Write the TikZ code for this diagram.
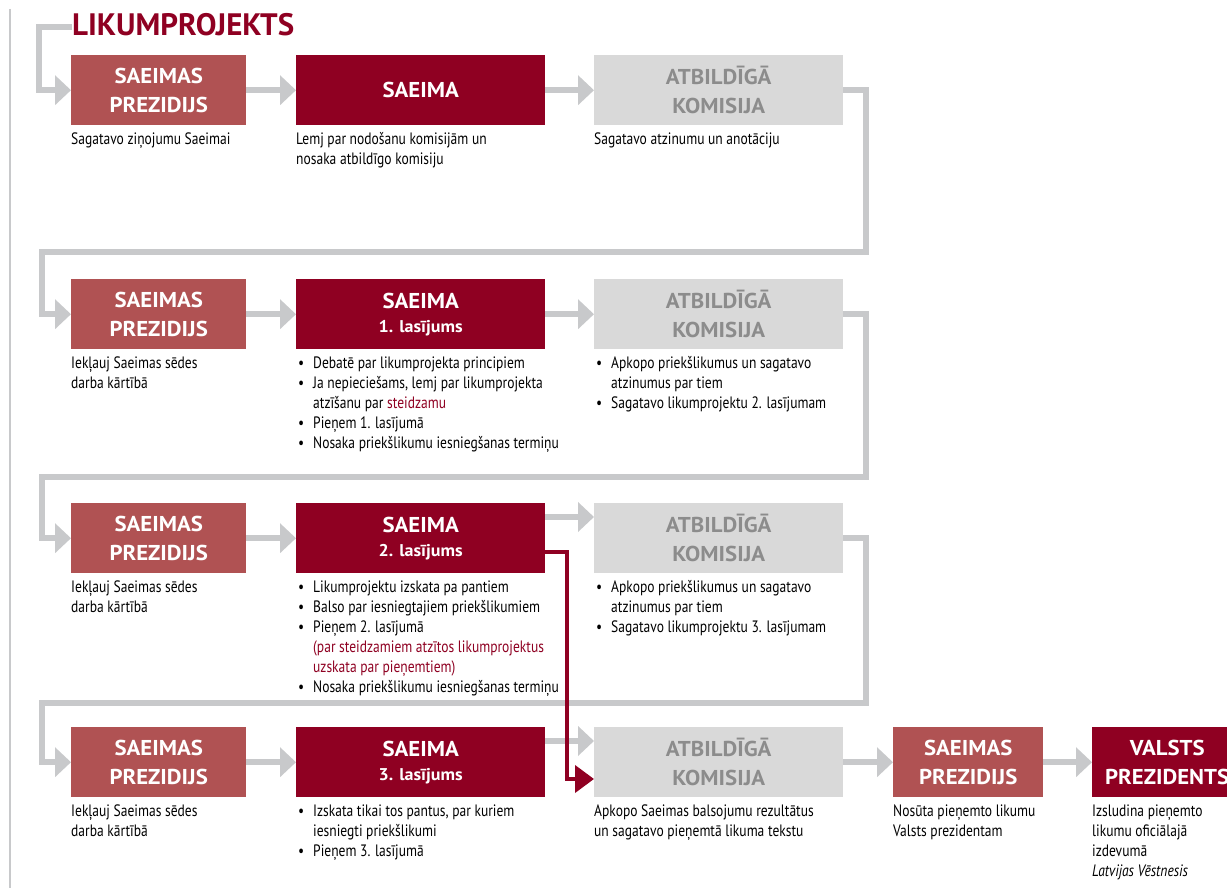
\documentclass[tikz,border=0pt]{standalone}
\usepackage{fontspec}
\setmainfont{PT Sans}
\newfontfamily\bodyfont{PT Sans}[FakeStretch=0.82]
\newfontfamily\boxfont{PT Sans}[FakeStretch=1.06]
\usetikzlibrary{arrows.meta,calc}
\definecolor{dred}{HTML}{8F0022}
\definecolor{pinkred}{HTML}{B05253}
\definecolor{lgray}{HTML}{D9D9D9}
\definecolor{tgray}{HTML}{8C8C8C}
\definecolor{cgray}{HTML}{C8C9CB}
\newcommand\mybul{\makebox[17pt][l]{\hspace{2pt}\textbullet}}
\newcommand\myind{\hspace*{17pt}}
\newcommand\rd[1]{\textcolor{dred}{#1}}
\tikzset{
  box/.style={anchor=north west, inner sep=0pt, minimum height=70pt, align=center,
    font=\boxfont\fontsize{21.5}{29}\selectfont\bfseries, text=white},
  wbox/.style={box, minimum width=249pt},
  nbox/.style={box, minimum width=175pt},
  sbox/.style={box, minimum width=150pt},
  prez/.style={fill=pinkred},
  saeima/.style={fill=dred},
  komis/.style={fill=lgray, text=tgray},
  desc/.style={anchor=north west, inner sep=0pt, align=left,
    font=\bodyfont\fontsize{16.5}{20}\selectfont},
  gline/.style={draw=cgray, line width=6pt},
  garrow/.style={gline, -{Triangle[length=16pt,width=29pt]}},
  rarrow/.style={draw=dred, line width=4pt, -{Triangle[length=19pt,width=27pt]}},
}
\newcommand\sub[1]{\\[-5pt]{\fontsize{17}{20}\selectfont #1}}
\begin{document}
\begin{tikzpicture}[x=1pt,y=-1pt]
\useasboundingbox[fill=white] (0,0) rectangle (1227,888);
% left rule
\draw[cgray, line width=2pt] (10,9) -- (10,888);
% title
\node[anchor=base west, inner sep=0pt, text=dred, font=\fontsize{31}{32}\selectfont\bfseries] (title) at (72,36) {LIKUMPROJEKTS};

% row 1
\node[nbox, prez]   (r1b1) at (71,55)  {SAEIMAS\\PREZIDIJS};
\node[wbox, saeima] (r1b2) at (296,55) {SAEIMA};
\node[wbox, komis]  (r1b3) at (594,55) {ATBILDĪGĀ\\KOMISIJA};
% row 2
\node[nbox, prez]   (r2b1) at (71,279)  {SAEIMAS\\PREZIDIJS};
\node[wbox, saeima] (r2b2) at (296,279) {SAEIMA\sub{1. lasījums}};
\node[wbox, komis]  (r2b3) at (594,279) {ATBILDĪGĀ\\KOMISIJA};
% row 3
\node[nbox, prez]   (r3b1) at (71,503)  {SAEIMAS\\PREZIDIJS};
\node[wbox, saeima] (r3b2) at (296,503) {SAEIMA\sub{2. lasījums}};
\node[wbox, komis]  (r3b3) at (594,503) {ATBILDĪGĀ\\KOMISIJA};
% row 4
\node[nbox, prez]   (r4b1) at (71,727)  {SAEIMAS\\PREZIDIJS};
\node[wbox, saeima] (r4b2) at (296,727) {SAEIMA\sub{3. lasījums}};
\node[wbox, komis]  (r4b3) at (594,727) {ATBILDĪGĀ\\KOMISIJA};
\node[sbox, prez]   (r4b4) at (893,727) {SAEIMAS\\PREZIDIJS};
\node[sbox, saeima] (r4b5) at (1092,727) {VALSTS\\PREZIDENTS};

% descriptions
\node[desc] (d11) at ([yshift=-5pt]r1b1.south west) {\begin{tabular}{@{}l@{}}Sagatavo ziņojumu Saeimai\end{tabular}};
\node[desc] (d12) at ([yshift=-5pt]r1b2.south west) {\begin{tabular}{@{}l@{}}Lemj par nodošanu komisijām un\\nosaka atbildīgo komisiju\end{tabular}};
\node[desc] (d13) at ([yshift=-5pt]r1b3.south west) {\begin{tabular}{@{}l@{}}Sagatavo atzinumu un anotāciju\end{tabular}};

\node[desc] (d21) at ([yshift=-5pt]r2b1.south west) {\begin{tabular}{@{}l@{}}Iekļauj Saeimas sēdes\\darba kārtībā\end{tabular}};
\node[desc] (d22) at ([yshift=-5pt]r2b2.south west) {\begin{tabular}{@{}l@{}}\mybul Debatē par likumprojekta principiem\\
\mybul Ja nepieciešams, lemj par likumprojekta\\
\myind atzīšanu par \rd{steidzamu}\\
\mybul Pieņem 1. lasījumā\\
\mybul Nosaka priekšlikumu iesniegšanas termiņu\end{tabular}};
\node[desc] (d23) at ([yshift=-5pt]r2b3.south west) {\begin{tabular}{@{}l@{}}\mybul Apkopo priekšlikumus un sagatavo\\
\myind atzinumus par tiem\\
\mybul Sagatavo likumprojektu 2. lasījumam\end{tabular}};

\node[desc] (d31) at ([yshift=-5pt]r3b1.south west) {\begin{tabular}{@{}l@{}}Iekļauj Saeimas sēdes\\darba kārtībā\end{tabular}};
\node[desc] (d32) at ([yshift=-5pt]r3b2.south west) {\begin{tabular}{@{}l@{}}\mybul Likumprojektu izskata pa pantiem\\
\mybul Balso par iesniegtajiem priekšlikumiem\\
\mybul Pieņem 2. lasījumā\\
\myind \rd{(par steidzamiem atzītos likumprojektus}\\
\myind \rd{uzskata par pieņemtiem)}\\
\mybul Nosaka priekšlikumu iesniegšanas termiņu\end{tabular}};
\node[desc] (d33) at ([yshift=-5pt]r3b3.south west) {\begin{tabular}{@{}l@{}}\mybul Apkopo priekšlikumus un sagatavo\\
\myind atzinumus par tiem\\
\mybul Sagatavo likumprojektu 3. lasījumam\end{tabular}};

\node[desc] (d41) at ([yshift=-5pt]r4b1.south west) {\begin{tabular}{@{}l@{}}Iekļauj Saeimas sēdes\\darba kārtībā\end{tabular}};
\node[desc] (d42) at ([yshift=-5pt]r4b2.south west) {\begin{tabular}{@{}l@{}}\mybul Izskata tikai tos pantus, par kuriem\\
\myind iesniegti priekšlikumi\\
\mybul Pieņem 3. lasījumā\end{tabular}};
\node[desc] (d43) at ([yshift=-5pt]r4b3.south west) {\begin{tabular}{@{}l@{}}Apkopo Saeimas balsojumu rezultātus\\un sagatavo pieņemtā likuma tekstu\end{tabular}};
\node[desc] (d44) at ([yshift=-5pt]r4b4.south west) {\begin{tabular}{@{}l@{}}Nosūta pieņemto likumu\\Valsts prezidentam\end{tabular}};
\node[desc] (d45) at ([yshift=-5pt]r4b5.south west) {\begin{tabular}{@{}l@{}}Izsludina pieņemto\\likumu oficiālajā\\izdevumā\\\textit{Latvijas Vēstnesis}\end{tabular}};

% connector coordinates
\coordinate (c0) at (39,27);
\coordinate (k1) at (866,252);
\coordinate (j1) at (42,252);
\coordinate (k2) at (866,477);
\coordinate (j2) at (42,477);
\coordinate (k3) at (866,703);
\coordinate (j3) at (42,703);
\coordinate (rv) at (567,600);

% gray connectors
\draw[garrow] (title.west |- c0) -- (c0) |- (r1b1.west);
\draw[garrow] (r1b1.east) -- (r1b2.west);
\draw[garrow] (r1b2.east) -- (r1b3.west);
\draw[garrow] (r1b3.east) -| (k1) -- (j1) |- (r2b1.west);
\draw[garrow] (r2b1.east) -- (r2b2.west);
\draw[garrow] (r2b2.east) -- (r2b3.west);
\draw[garrow] (r2b3.east) -| (k2) -- (j2) |- (r3b1.west);
\draw[garrow] (r3b1.east) -- (r3b2.west);
\draw[garrow] ([yshift=-14pt]r3b2.north east) -- ([yshift=-14pt]r3b3.north west);
\draw[garrow] (r3b3.east) -| (k3) -- (j3) |- (r4b1.west);
\draw[garrow] (r4b1.east) -- (r4b2.west);
\draw[garrow] ([yshift=-14pt]r4b2.north east) -- ([yshift=-14pt]r4b3.north west);
\draw[garrow] (r4b3.east) -- (r4b4.west);
\draw[garrow] (r4b4.east) -- (r4b5.west);
% red connector
\draw[rarrow] ([yshift=-49pt]r3b2.north east) -| (rv) |- ([yshift=-52pt]r4b3.north west);
\end{tikzpicture}
\end{document}
